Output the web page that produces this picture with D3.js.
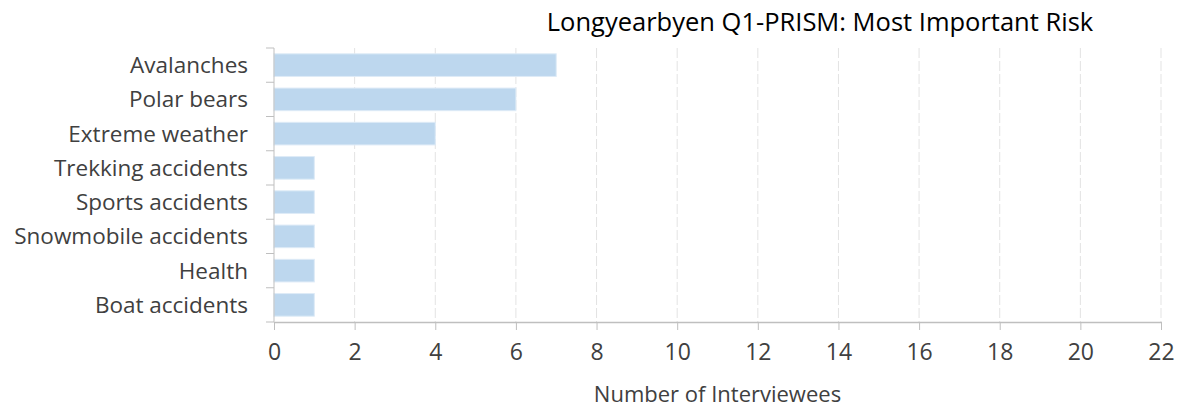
<!DOCTYPE html>
<html>
<head>
<meta charset="utf-8">
<script src="https://cdn.jsdelivr.net/npm/d3@7"></script>
<style>
  body { margin: 0; background: #fff; }
  text { font-family: 'Open Sans', sans-serif; fill: #404040; }
</style>
</head>
<body>
<div id="chart"></div>
<script>
const categories = [
  'Avalanches',
  'Polar bears',
  'Extreme weather',
  'Trekking accidents',
  'Sports accidents',
  'Snowmobile accidents',
  'Health',
  'Boat accidents'
];
const interviewees = [7, 6, 4, 1, 1, 1, 1, 1];
const xTicks = [0, 2, 4, 6, 8, 10, 12, 14, 16, 18, 20, 22];

const chartTitle = 'Longyearbyen Q1-PRISM: Most Important Risk';
const xTitle = 'Number of Interviewees';

const margin = { top: 48, right: 27, bottom: 88, left: 274 };
const width = 1188 - margin.left - margin.right,
  height = 410 - margin.top - margin.bottom;

const data = categories.map((c, i) => ({ name: c, value: interviewees[i] }));

const svg = d3
  .select('#chart')
  .append('svg')
  .attr('width', 1188)
  .attr('height', 410);

const g = svg
  .append('g')
  .attr('transform', `translate(${margin.left},${margin.top})`);

const x = d3.scaleLinear().domain([0, 22]).range([0, width]);
const y = d3
  .scaleBand()
  .domain(categories)
  .range([0, height])
  .paddingInner(0.34)
  .paddingOuter(0.17);

// gridlines
g.append('g')
  .selectAll('line')
  .data(xTicks.slice(1))
  .enter()
  .append('line')
  .attr('x1', (d) => x(d))
  .attr('x2', (d) => x(d))
  .attr('y1', 0)
  .attr('y2', height)
  .attr('stroke', '#e3e3e3')
  .attr('stroke-width', 1)
  .attr('stroke-dasharray', '10,3');

// bars
g.append('g')
  .selectAll('rect')
  .data(data)
  .enter()
  .append('rect')
  .attr('x', 0)
  .attr('y', (d) => y(d.name))
  .attr('width', (d) => x(d.value))
  .attr('height', y.bandwidth())
  .attr('fill', '#bdd7ee')
  .attr('stroke', '#deebf7')
  .attr('stroke-width', 1);

// y axis: ticks between categories
const step = y.step();
const yTickPos = d3.range(categories.length + 1).map((i) => i * step);
const yAxis = g.append('g').attr('class', 'axis y-axis');
yAxis
  .append('line')
  .attr('x1', 0)
  .attr('x2', 0)
  .attr('y1', 0)
  .attr('y2', height)
  .attr('stroke', '#bfbfbf');
yAxis
  .selectAll('.ytick')
  .data(yTickPos)
  .enter()
  .append('line')
  .attr('class', 'ytick')
  .attr('x1', -8)
  .attr('x2', 0)
  .attr('y1', (d) => d)
  .attr('y2', (d) => d)
  .attr('stroke', '#bfbfbf');
yAxis
  .selectAll('text')
  .data(categories)
  .enter()
  .append('text')
  .attr('x', -26)
  .attr('y', (d) => y(d) + y.bandwidth() / 2)
  .attr('dy', '0.35em')
  .attr('text-anchor', 'end')
  .style('font-size', '22.5px')
  .text((d) => d);

// x axis
const xAxis = d3
  .axisBottom(x)
  .tickValues(xTicks)
  .tickSize(8)
  .tickPadding(14)
  .tickSizeOuter(0);
const xg = g
  .append('g')
  .attr('class', 'axis x-axis')
  .attr('transform', `translate(0,${height})`)
  .call(xAxis);
xg.select('.domain').attr('stroke', '#bfbfbf').attr('stroke-width', 1.5);
xg.selectAll('.tick line').attr('stroke', '#bfbfbf');
xg.selectAll('.tick text')
  .style('font-size', '23px')
  .style('font-family', "'Open Sans', sans-serif")
  .attr('fill', '#404040');

// axis title
svg
  .append('text')
  .attr('x', margin.left + width / 2)
  .attr('y', 394)
  .attr('dy', '0.35em')
  .attr('text-anchor', 'middle')
  .style('font-size', '22px')
  .text(xTitle);

// chart title
svg
  .append('text')
  .attr('x', 820)
  .attr('y', 31)
  .attr('text-anchor', 'middle')
  .style('font-size', '25.5px')
  .style('fill', '#000')
  .text(chartTitle);
</script>
</body>
</html>
